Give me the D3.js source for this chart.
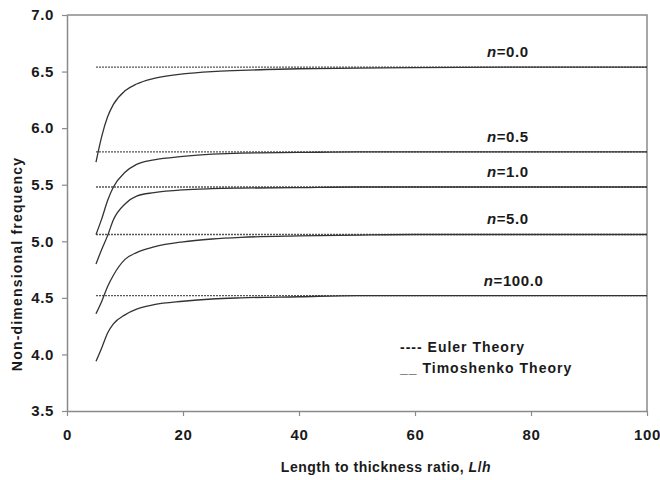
<!DOCTYPE html>
<html>
<head>
<meta charset="utf-8">
<script src="https://cdn.jsdelivr.net/npm/d3@7"></script>
<style>
  body { margin: 0; background: #fff; }
  text { font-family: "Liberation Sans", Arial, sans-serif; }
</style>
</head>
<body>
<div id="chart"></div>
<script>
// length to thickness ratio where the curves are read
const ratios = [5, 6, 7, 8, 10, 12, 15, 20, 25, 30, 40, 50, 60, 80, 100];

// Timoshenko theory curves
const timoN0   = [5.70, 5.93, 6.10, 6.21, 6.33, 6.39, 6.44, 6.48, 6.50, 6.51, 6.525, 6.53, 6.535, 6.54, 6.54];
const timoN05  = [5.06, 5.20, 5.36, 5.48, 5.61, 5.68, 5.72, 5.75, 5.77, 5.78, 5.785, 5.79, 5.79, 5.79, 5.79];
const timoN1   = [4.80, 4.93, 5.05, 5.19, 5.33, 5.40, 5.43, 5.455, 5.465, 5.47, 5.475, 5.48, 5.48, 5.48, 5.48];
const timoN5   = [4.36, 4.47, 4.60, 4.70, 4.84, 4.90, 4.95, 4.995, 5.02, 5.035, 5.048, 5.055, 5.06, 5.06, 5.06];
const timoN100 = [3.94, 4.06, 4.19, 4.27, 4.35, 4.40, 4.44, 4.47, 4.49, 4.50, 4.51, 4.52, 4.52, 4.52, 4.52];

// Euler theory (constant with L/h)
const eulerLevels = [6.54, 5.79, 5.48, 5.06, 4.52];
const eulerRange = [5, 100];

const seriesLabels = ["0.0", "0.5", "1.0", "5.0", "100.0"];
const labelX = [76, 76, 76, 76, 77];

const xTicks = [0, 20, 40, 60, 80, 100];
const yTicks = [3.5, 4.0, 4.5, 5.0, 5.5, 6.0, 6.5, 7.0];

const timo = [timoN0, timoN05, timoN1, timoN5, timoN100];

const margin = {top: 15, right: 13, bottom: 69, left: 67},
    width = 660 - margin.left - margin.right,
    height = 480 - margin.top - margin.bottom;

const svg = d3.select("#chart")
  .append("svg")
    .attr("width", 660)
    .attr("height", 480)
  .append("g")
    .attr("transform", "translate(" + margin.left + "," + margin.top + ")");

const x = d3.scaleLinear().domain([0, 100]).range([0, width]);
const y = d3.scaleLinear().domain([3.5, 7.0]).range([height, 0]);

// plot box (top + right)
svg.append("path")
  .attr("d", `M0,0H${width}V${height}`)
  .attr("fill", "none")
  .attr("stroke", "#8a8a8a")
  .attr("stroke-width", 1.5);

// axes
const xAxis = svg.append("g")
  .attr("transform", `translate(0, ${height})`)
  .call(d3.axisBottom(x).tickValues(xTicks).tickFormat(d3.format("d")).tickSize(5).tickPadding(13).tickSizeOuter(0));

const yAxis = svg.append("g")
  .call(d3.axisLeft(y).tickValues(yTicks).tickFormat(d3.format(".1f")).tickSize(5).tickPadding(8).tickSizeOuter(0));

[xAxis, yAxis].forEach(function(a) {
  a.select(".domain").attr("stroke", "#8a8a8a").attr("stroke-width", 1.5);
  a.selectAll(".tick line").attr("stroke", "#8a8a8a").attr("stroke-width", 1.2);
  a.selectAll(".tick text")
    .attr("fill", "#1a1a1a")
    .style("font-size", "15px")
    .style("font-weight", "bold")
    .style("letter-spacing", "0.6px");
});

// Euler theory: dotted horizontal lines
svg.selectAll(".euler")
  .data(eulerLevels)
  .enter().append("line")
    .attr("class", "euler")
    .attr("x1", x(eulerRange[0]))
    .attr("x2", x(eulerRange[1]))
    .attr("y1", d => y(d))
    .attr("y2", d => y(d))
    .attr("stroke", "#555")
    .attr("stroke-width", 1.3)
    .attr("stroke-dasharray", "2,1");

// Timoshenko theory: curves
const line = d3.line()
  .x((d, i) => x(ratios[i]))
  .y(d => y(d))
  .curve(d3.curveMonotoneX);

svg.selectAll(".timo")
  .data(timo)
  .enter().append("path")
    .attr("class", "timo")
    .attr("fill", "none")
    .attr("stroke", "#333")
    .attr("stroke-width", 1.3)
    .attr("d", line);

// n labels
const labels = svg.selectAll(".nlabel")
  .data(seriesLabels)
  .enter().append("text")
    .attr("class", "nlabel")
    .attr("x", (d, i) => x(labelX[i]))
    .attr("y", (d, i) => y(eulerLevels[i]) - 10)
    .attr("text-anchor", "middle")
    .style("font-size", "15px")
    .style("font-weight", "bold")
    .style("letter-spacing", "0.6px")
    .attr("fill", "#1a1a1a");
labels.append("tspan").style("font-style", "italic").text("n");
labels.append("tspan").text(d => "=" + d);

// legend
const legend = svg.append("g").attr("transform", `translate(${400 - margin.left}, ${352 - margin.top})`);
legend.append("text")
  .attr("x", 0).attr("y", 0)
  .style("font-size", "14px").style("font-weight", "bold").style("letter-spacing", "1px").attr("fill", "#1a1a1a")
  .text("---- Euler Theory");
legend.append("text")
  .attr("x", 0).attr("y", 21)
  .style("font-size", "14px").style("font-weight", "bold").style("letter-spacing", "1px").attr("fill", "#1a1a1a")
  .text("__ Timoshenko Theory");

// axis titles
svg.append("text")
  .attr("x", 386 - margin.left)
  .attr("y", 472 - margin.top)
  .attr("text-anchor", "middle")
  .style("font-size", "14px").style("font-weight", "bold").style("letter-spacing", "0.5px").attr("fill", "#1a1a1a")
  .call(function(t) {
    t.append("tspan").text("Length to thickness ratio, ");
    t.append("tspan").style("font-style", "italic").text("L");
    t.append("tspan").text("/");
    t.append("tspan").style("font-style", "italic").text("h");
  });

svg.append("text")
  .attr("transform", `translate(${22 - margin.left}, ${264 - margin.top}) rotate(-90)`)
  .attr("text-anchor", "middle")
  .style("font-size", "14px").style("font-weight", "bold").style("letter-spacing", "1.2px").attr("fill", "#1a1a1a")
  .text("Non-dimensional frequency");
</script>
</body>
</html>
